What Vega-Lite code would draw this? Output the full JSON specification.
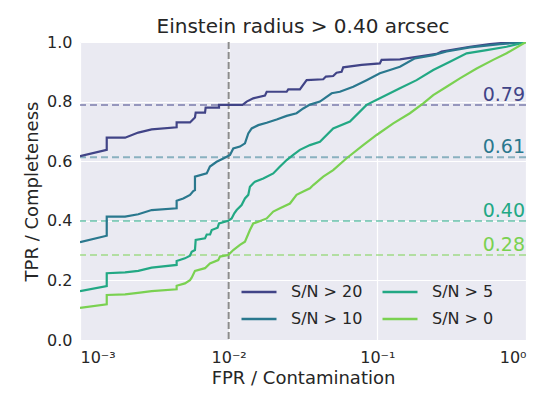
{
  "$schema": "https://vega.github.io/schema/vega-lite/v6.json",
  "width": 446,
  "height": 298,
  "autosize": "none",
  "padding": {"left": 80, "top": 42, "right": 24, "bottom": 55},
  "background": "white",
  "title": {"text": "Einstein radius > 0.40 arcsec", "fontSize": 20, "font": "DejaVu Sans", "fontWeight": "normal", "color": "#262626", "offset": -3},
  "config": {
    "view": {"stroke": null, "fill": "#EAEAF2"},
    "font": "DejaVu Sans",
    "axis": {"grid": true, "gridColor": "white", "gridWidth": 1.2, "domain": false, "ticks": false, "labelColor": "#262626", "labelFontSize": 16, "titleFontSize": 18, "titleFontWeight": "normal", "titleColor": "#262626", "labelFont": "DejaVu Sans", "titleFont": "DejaVu Sans"},
    "legend": {"labelFont": "DejaVu Sans", "labelFontSize": 16, "labelColor": "#262626"}
  },
  "datasets": {
    "curves": [
      {"s": "S/N > 20", "x": 0.001, "y": 0.617},
      {"s": "S/N > 20", "x": 0.001513, "y": 0.638},
      {"s": "S/N > 20", "x": 0.001513, "y": 0.679},
      {"s": "S/N > 20", "x": 0.00201, "y": 0.679},
      {"s": "S/N > 20", "x": 0.002466, "y": 0.696},
      {"s": "S/N > 20", "x": 0.003034, "y": 0.707},
      {"s": "S/N > 20", "x": 0.004467, "y": 0.714},
      {"s": "S/N > 20", "x": 0.004467, "y": 0.73},
      {"s": "S/N > 20", "x": 0.005495, "y": 0.73},
      {"s": "S/N > 20", "x": 0.005933, "y": 0.747},
      {"s": "S/N > 20", "x": 0.006, "y": 0.763},
      {"s": "S/N > 20", "x": 0.006934, "y": 0.763},
      {"s": "S/N > 20", "x": 0.007, "y": 0.78},
      {"s": "S/N > 20", "x": 0.00861, "y": 0.78},
      {"s": "S/N > 20", "x": 0.00861, "y": 0.789},
      {"s": "S/N > 20", "x": 0.01241, "y": 0.789},
      {"s": "S/N > 20", "x": 0.01321, "y": 0.8},
      {"s": "S/N > 20", "x": 0.01463, "y": 0.811},
      {"s": "S/N > 20", "x": 0.01754, "y": 0.82},
      {"s": "S/N > 20", "x": 0.01802, "y": 0.833},
      {"s": "S/N > 20", "x": 0.02455, "y": 0.833},
      {"s": "S/N > 20", "x": 0.02517, "y": 0.841},
      {"s": "S/N > 20", "x": 0.03013, "y": 0.841},
      {"s": "S/N > 20", "x": 0.03346, "y": 0.872},
      {"s": "S/N > 20", "x": 0.04328, "y": 0.875},
      {"s": "S/N > 20", "x": 0.0451, "y": 0.884},
      {"s": "S/N > 20", "x": 0.05047, "y": 0.886},
      {"s": "S/N > 20", "x": 0.05318, "y": 0.897},
      {"s": "S/N > 20", "x": 0.05747, "y": 0.9},
      {"s": "S/N > 20", "x": 0.05896, "y": 0.915},
      {"s": "S/N > 20", "x": 0.07838, "y": 0.923},
      {"s": "S/N > 20", "x": 0.104, "y": 0.928},
      {"s": "S/N > 20", "x": 0.1068, "y": 0.94},
      {"s": "S/N > 20", "x": 0.1419, "y": 0.942},
      {"s": "S/N > 20", "x": 0.179, "y": 0.949},
      {"s": "S/N > 20", "x": 0.2505, "y": 0.96},
      {"s": "S/N > 20", "x": 0.2706, "y": 0.968},
      {"s": "S/N > 20", "x": 0.4196, "y": 0.984},
      {"s": "S/N > 20", "x": 0.5715, "y": 0.993},
      {"s": "S/N > 20", "x": 0.7406, "y": 0.998},
      {"s": "S/N > 20", "x": 1.0, "y": 1.0},

      {"s": "S/N > 10", "x": 0.001, "y": 0.328},
      {"s": "S/N > 10", "x": 0.001513, "y": 0.35},
      {"s": "S/N > 10", "x": 0.001513, "y": 0.414},
      {"s": "S/N > 10", "x": 0.00201, "y": 0.414},
      {"s": "S/N > 10", "x": 0.002466, "y": 0.422},
      {"s": "S/N > 10", "x": 0.003034, "y": 0.436},
      {"s": "S/N > 10", "x": 0.004467, "y": 0.442},
      {"s": "S/N > 10", "x": 0.004467, "y": 0.467},
      {"s": "S/N > 10", "x": 0.00495, "y": 0.475},
      {"s": "S/N > 10", "x": 0.005495, "y": 0.487},
      {"s": "S/N > 10", "x": 0.00578, "y": 0.5},
      {"s": "S/N > 10", "x": 0.005933, "y": 0.503},
      {"s": "S/N > 10", "x": 0.005933, "y": 0.548},
      {"s": "S/N > 10", "x": 0.007117, "y": 0.559},
      {"s": "S/N > 10", "x": 0.007484, "y": 0.582},
      {"s": "S/N > 10", "x": 0.0083, "y": 0.598},
      {"s": "S/N > 10", "x": 0.009204, "y": 0.609},
      {"s": "S/N > 10", "x": 0.01021, "y": 0.621},
      {"s": "S/N > 10", "x": 0.01074, "y": 0.643},
      {"s": "S/N > 10", "x": 0.01191, "y": 0.649},
      {"s": "S/N > 10", "x": 0.01287, "y": 0.66},
      {"s": "S/N > 10", "x": 0.01355, "y": 0.693},
      {"s": "S/N > 10", "x": 0.01428, "y": 0.71},
      {"s": "S/N > 10", "x": 0.01582, "y": 0.721},
      {"s": "S/N > 10", "x": 0.01802, "y": 0.729},
      {"s": "S/N > 10", "x": 0.02103, "y": 0.74},
      {"s": "S/N > 10", "x": 0.02455, "y": 0.752},
      {"s": "S/N > 10", "x": 0.02862, "y": 0.761},
      {"s": "S/N > 10", "x": 0.03174, "y": 0.777},
      {"s": "S/N > 10", "x": 0.03522, "y": 0.79},
      {"s": "S/N > 10", "x": 0.0411, "y": 0.8},
      {"s": "S/N > 10", "x": 0.04929, "y": 0.828},
      {"s": "S/N > 10", "x": 0.05598, "y": 0.833},
      {"s": "S/N > 10", "x": 0.06887, "y": 0.85},
      {"s": "S/N > 10", "x": 0.08465, "y": 0.872},
      {"s": "S/N > 10", "x": 0.104, "y": 0.895},
      {"s": "S/N > 10", "x": 0.1216, "y": 0.906},
      {"s": "S/N > 10", "x": 0.1419, "y": 0.917},
      {"s": "S/N > 10", "x": 0.179, "y": 0.945},
      {"s": "S/N > 10", "x": 0.2377, "y": 0.956},
      {"s": "S/N > 10", "x": 0.2924, "y": 0.968},
      {"s": "S/N > 10", "x": 0.4196, "y": 0.982},
      {"s": "S/N > 10", "x": 0.6669, "y": 0.993},
      {"s": "S/N > 10", "x": 1.0, "y": 1.0},

      {"s": "S/N > 5", "x": 0.001, "y": 0.164},
      {"s": "S/N > 5", "x": 0.001513, "y": 0.181},
      {"s": "S/N > 5", "x": 0.001513, "y": 0.224},
      {"s": "S/N > 5", "x": 0.00201, "y": 0.227},
      {"s": "S/N > 5", "x": 0.002466, "y": 0.232},
      {"s": "S/N > 5", "x": 0.003034, "y": 0.243},
      {"s": "S/N > 5", "x": 0.004467, "y": 0.252},
      {"s": "S/N > 5", "x": 0.004467, "y": 0.265},
      {"s": "S/N > 5", "x": 0.00508, "y": 0.274},
      {"s": "S/N > 5", "x": 0.005495, "y": 0.283},
      {"s": "S/N > 5", "x": 0.00564, "y": 0.296},
      {"s": "S/N > 5", "x": 0.005933, "y": 0.302},
      {"s": "S/N > 5", "x": 0.006, "y": 0.336},
      {"s": "S/N > 5", "x": 0.006934, "y": 0.341},
      {"s": "S/N > 5", "x": 0.007117, "y": 0.354},
      {"s": "S/N > 5", "x": 0.0075, "y": 0.354},
      {"s": "S/N > 5", "x": 0.00769, "y": 0.369},
      {"s": "S/N > 5", "x": 0.00843, "y": 0.377},
      {"s": "S/N > 5", "x": 0.00861, "y": 0.391},
      {"s": "S/N > 5", "x": 0.009934, "y": 0.4},
      {"s": "S/N > 5", "x": 0.01047, "y": 0.408},
      {"s": "S/N > 5", "x": 0.01091, "y": 0.425},
      {"s": "S/N > 5", "x": 0.01132, "y": 0.436},
      {"s": "S/N > 5", "x": 0.01222, "y": 0.453},
      {"s": "S/N > 5", "x": 0.01287, "y": 0.475},
      {"s": "S/N > 5", "x": 0.01355, "y": 0.487},
      {"s": "S/N > 5", "x": 0.0139, "y": 0.514},
      {"s": "S/N > 5", "x": 0.01463, "y": 0.526},
      {"s": "S/N > 5", "x": 0.01503, "y": 0.531},
      {"s": "S/N > 5", "x": 0.01709, "y": 0.542},
      {"s": "S/N > 5", "x": 0.01995, "y": 0.559},
      {"s": "S/N > 5", "x": 0.02214, "y": 0.582},
      {"s": "S/N > 5", "x": 0.02455, "y": 0.604},
      {"s": "S/N > 5", "x": 0.02718, "y": 0.621},
      {"s": "S/N > 5", "x": 0.03013, "y": 0.638},
      {"s": "S/N > 5", "x": 0.03522, "y": 0.654},
      {"s": "S/N > 5", "x": 0.0411, "y": 0.665},
      {"s": "S/N > 5", "x": 0.05047, "y": 0.71},
      {"s": "S/N > 5", "x": 0.06541, "y": 0.733},
      {"s": "S/N > 5", "x": 0.08465, "y": 0.789},
      {"s": "S/N > 5", "x": 0.104, "y": 0.811},
      {"s": "S/N > 5", "x": 0.1419, "y": 0.845},
      {"s": "S/N > 5", "x": 0.1837, "y": 0.872},
      {"s": "S/N > 5", "x": 0.2377, "y": 0.906},
      {"s": "S/N > 5", "x": 0.3078, "y": 0.934},
      {"s": "S/N > 5", "x": 0.3988, "y": 0.962},
      {"s": "S/N > 5", "x": 0.5433, "y": 0.973},
      {"s": "S/N > 5", "x": 0.7406, "y": 0.984},
      {"s": "S/N > 5", "x": 1.0, "y": 1.0},

      {"s": "S/N > 0", "x": 0.001, "y": 0.108},
      {"s": "S/N > 0", "x": 0.001513, "y": 0.12},
      {"s": "S/N > 0", "x": 0.001513, "y": 0.151},
      {"s": "S/N > 0", "x": 0.00201, "y": 0.153},
      {"s": "S/N > 0", "x": 0.00253, "y": 0.159},
      {"s": "S/N > 0", "x": 0.003034, "y": 0.164},
      {"s": "S/N > 0", "x": 0.004467, "y": 0.17},
      {"s": "S/N > 0", "x": 0.004467, "y": 0.182},
      {"s": "S/N > 0", "x": 0.00508, "y": 0.19},
      {"s": "S/N > 0", "x": 0.005495, "y": 0.201},
      {"s": "S/N > 0", "x": 0.00564, "y": 0.209},
      {"s": "S/N > 0", "x": 0.005933, "y": 0.232},
      {"s": "S/N > 0", "x": 0.006934, "y": 0.241},
      {"s": "S/N > 0", "x": 0.007484, "y": 0.257},
      {"s": "S/N > 0", "x": 0.008511, "y": 0.268},
      {"s": "S/N > 0", "x": 0.00874, "y": 0.28},
      {"s": "S/N > 0", "x": 0.009934, "y": 0.285},
      {"s": "S/N > 0", "x": 0.01074, "y": 0.302},
      {"s": "S/N > 0", "x": 0.01191, "y": 0.319},
      {"s": "S/N > 0", "x": 0.01287, "y": 0.33},
      {"s": "S/N > 0", "x": 0.0139, "y": 0.369},
      {"s": "S/N > 0", "x": 0.01463, "y": 0.391},
      {"s": "S/N > 0", "x": 0.01582, "y": 0.397},
      {"s": "S/N > 0", "x": 0.01802, "y": 0.408},
      {"s": "S/N > 0", "x": 0.01995, "y": 0.431},
      {"s": "S/N > 0", "x": 0.02214, "y": 0.442},
      {"s": "S/N > 0", "x": 0.02584, "y": 0.458},
      {"s": "S/N > 0", "x": 0.02862, "y": 0.487},
      {"s": "S/N > 0", "x": 0.03174, "y": 0.498},
      {"s": "S/N > 0", "x": 0.03522, "y": 0.509},
      {"s": "S/N > 0", "x": 0.03708, "y": 0.52},
      {"s": "S/N > 0", "x": 0.04328, "y": 0.548},
      {"s": "S/N > 0", "x": 0.05047, "y": 0.57},
      {"s": "S/N > 0", "x": 0.06213, "y": 0.61},
      {"s": "S/N > 0", "x": 0.08031, "y": 0.654},
      {"s": "S/N > 0", "x": 0.09886, "y": 0.688},
      {"s": "S/N > 0", "x": 0.128, "y": 0.727},
      {"s": "S/N > 0", "x": 0.1656, "y": 0.761},
      {"s": "S/N > 0", "x": 0.2036, "y": 0.794},
      {"s": "S/N > 0", "x": 0.2377, "y": 0.822},
      {"s": "S/N > 0", "x": 0.2924, "y": 0.85},
      {"s": "S/N > 0", "x": 0.3591, "y": 0.878},
      {"s": "S/N > 0", "x": 0.4655, "y": 0.911},
      {"s": "S/N > 0", "x": 0.6011, "y": 0.94},
      {"s": "S/N > 0", "x": 0.7406, "y": 0.962},
      {"s": "S/N > 0", "x": 1.0, "y": 1.0}
    ],
    "thresholds": [
      {"s": "S/N > 20", "y": 0.789, "label": "0.79"},
      {"s": "S/N > 10", "y": 0.613, "label": "0.61"},
      {"s": "S/N > 5", "y": 0.399, "label": "0.40"},
      {"s": "S/N > 0", "y": 0.285, "label": "0.28"}
    ]
  },
  "resolve": {"legend": {"color": "independent"}},
  "layer": [
    {
      "data": {"name": "thresholds"},
      "mark": {"type": "rule", "strokeDash": [7, 4], "strokeWidth": 2, "opacity": 0.5},
      "encoding": {
        "y": {"field": "y", "type": "quantitative", "scale": {"domain": [0, 1]}},
        "color": {"field": "s", "type": "nominal", "legend": null}
      }
    },
    {
      "data": {"values": [{"x": 0.01}]},
      "mark": {"type": "rule", "strokeDash": [7, 3], "strokeWidth": 2, "color": "#8c8c8c"},
      "encoding": {
        "x": {"field": "x", "type": "quantitative", "scale": {"type": "log", "domain": [0.001, 1]}}
      }
    },
    {
      "data": {"name": "curves"},
      "mark": {"type": "line", "strokeWidth": 2.2, "clip": true},
      "encoding": {
        "x": {"field": "x", "type": "quantitative", "scale": {"type": "log", "domain": [0.001, 1]},
              "axis": {"values": [0.001, 0.01, 0.1, 1], "title": "FPR / Contamination", "labelPadding": 9, "titlePadding": 4,
                       "labelExpr": "datum.value < 0.005 ? '10⁻³' : datum.value < 0.05 ? '10⁻²' : datum.value < 0.5 ? '10⁻¹' : '10⁰'"}},
        "y": {"field": "y", "type": "quantitative", "scale": {"domain": [0, 1]},
              "axis": {"values": [0, 0.2, 0.4, 0.6, 0.8, 1.0], "format": ".1f", "title": "TPR / Completeness", "labelPadding": 8, "titlePadding": 5}},
        "color": {"field": "s", "type": "nominal",
                  "scale": {"domain": ["S/N > 20", "S/N > 10", "S/N > 5", "S/N > 0"], "range": ["#414487", "#2a788e", "#22a884", "#7ad151"]},
                  "legend": {"title": null, "orient": "none", "legendX": 160, "legendY": 231, "columns": 2, "symbolType": "stroke", "symbolSize": 1225, "symbolStrokeWidth": 2.5, "labelOffset": 13, "columnPadding": 14, "rowPadding": -2}},
        "order": {"value": null}
      }
    },
    {
      "data": {"name": "thresholds"},
      "mark": {"type": "text", "align": "right", "baseline": "alphabetic", "fontSize": 19, "dy": -4, "dx": -1},
      "encoding": {
        "x": {"datum": 1, "type": "quantitative", "scale": {"type": "log", "domain": [0.001, 1]}},
        "y": {"field": "y", "type": "quantitative", "scale": {"domain": [0, 1]}},
        "text": {"field": "label"},
        "color": {"field": "s", "type": "nominal", "legend": null}
      }
    }
  ]
}
